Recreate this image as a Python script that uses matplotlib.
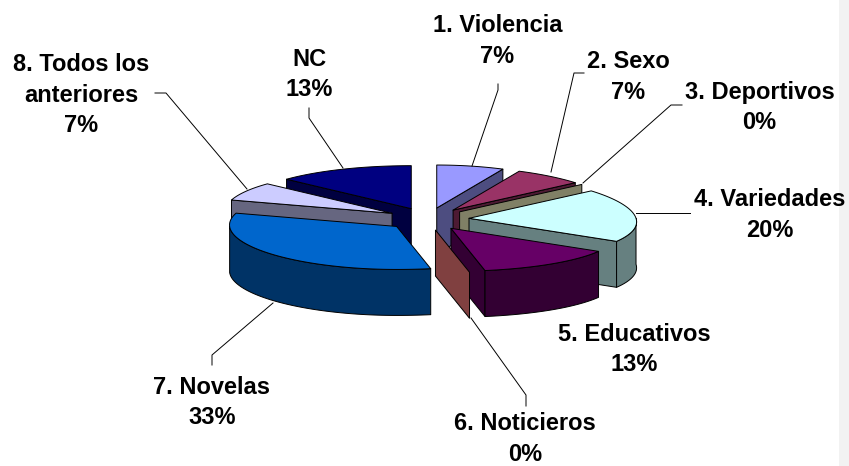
import numpy as np
import matplotlib
matplotlib.use("Agg")
import matplotlib.pyplot as plt
from matplotlib.patches import Polygon, Rectangle

# chart values, clockwise from 12 o'clock
names = ["1. Violencia", "2. Sexo", "3. Deportivos", "4. Variedades", "5. Educativos",
         "6. Noticieros", "7. Novelas", "8. Todos los\nanteriores", "NC"]
values = [7, 7, 0, 20, 13, 0, 33, 7, 13]
top_colors = ["#9999FF", "#993366", "#FFFFCC", "#CCFFFF", "#660066",
              "#FF8080", "#0066CC", "#CCCCFF", "#000080"]
side_colors = ["#4D4D80", "#4D1A33", "#808066", "#668080", "#330033",
               "#804040", "#003366", "#666680", "#000040"]

# label anchor (centre of text block) in pixels
label_x = [497.5, 628, 759.5, 770, 634, 525, 212, 81, 309]
label_y = [41, 77, 107.5, 215, 349.5, 439, 402.5, 95, 74.5]

# leader lines in pixels
leaders = [
    [(498, 84), (498, 90), (472, 166)],
    [(584, 73), (574, 73), (551, 172)],
    [(682, 105), (671, 105), (583, 183)],
    [(690, 213), (636, 213)],
    [(526, 406), (526, 395), (471, 318)],
    [(212, 365), (212, 355), (273, 303)],
    [(155, 93), (166, 93), (247, 189)],
    [(309, 108), (309, 118), (343, 168)],
]

# pie geometry
cx, cy = 427.7, 219.0
explode_x, explode_y = 41.4, 11.25
rx, ry = 167.0, 43.0
persp_right = 0.083
persp_left = -0.035
depth = 46.0


def project(ax0, ay0, theta):
    u = np.sin(theta)
    v = np.cos(theta)
    p = np.where(u < 0, persp_left, persp_right)
    return ax0 + rx * u / (1 + p * v), ay0 - ry * v


def arc(ax0, ay0, t0, t1):
    t = np.linspace(t0, t1, max(int(abs(t1 - t0) * 40), 2))
    x, y = project(ax0, ay0, t)
    return np.column_stack([x, y])


fig = plt.figure(figsize=(8.49, 4.66), dpi=100)
ax = fig.add_axes([0, 0, 1, 1])
ax.set_xlim(0, 849)
ax.set_ylim(466, 0)
ax.axis("off")
ax.add_patch(Rectangle((839, 0), 10, 466, facecolor="#F2F2F2", edgecolor="none", zorder=0))

edges = np.deg2rad(np.concatenate([[0], np.cumsum(values)]) * 3.6)
lw = 0.7


def face(pts, color, z):
    ax.add_patch(Polygon(pts, closed=True, facecolor=color, edgecolor="black",
                         linewidth=lw, joinstyle="round", zorder=z))


# back to front, two groups either side of the gap
order = [8, 7, 6, 0, 1, 2, 3, 4, 5]
z = 1
for i in order:
    t0, t1 = edges[i], edges[i + 1]
    mid = (t0 + t1) / 2
    ax0 = cx + explode_x * np.sin(mid)
    ay0 = cy - explode_y * np.cos(mid)
    apex = np.array([[ax0, ay0]])
    drop = np.array([0, depth])

    # radial walls, only those turned to the viewer
    walls = []
    if np.sin(t0) < -1e-6:
        walls.append(t0)
    if np.sin(t1) > 1e-6:
        walls.append(t1)
    for t in walls:
        p = np.array([project(ax0, ay0, t)])
        face(np.vstack([apex, p, p + drop, apex + drop]), side_colors[i], z)
        z += 1

    # outer wall, same thing
    a0, a1 = max(t0, np.pi / 2), min(t1, 3 * np.pi / 2)
    if a1 > a0:
        rim = arc(ax0, ay0, a0, a1)
        face(np.vstack([rim, (rim + drop)[::-1]]), side_colors[i], z)
        z += 1

    if t1 > t0:
        face(np.vstack([apex, arc(ax0, ay0, t0, t1)]), top_colors[i], z)
        z += 1

for line in leaders:
    xs, ys = zip(*line)
    ax.plot(xs, ys, color="black", lw=0.7, zorder=z + 1)

for name, val, lx, ly in zip(names, values, label_x, label_y):
    ax.text(lx, ly, "%s\n%d%%" % (name, val), ha="center", va="center", fontsize=17,
            fontweight="bold", family="Liberation Sans", color="black",
            linespacing=1.4, zorder=z + 2)

fig.savefig("out.png", dpi=100)
